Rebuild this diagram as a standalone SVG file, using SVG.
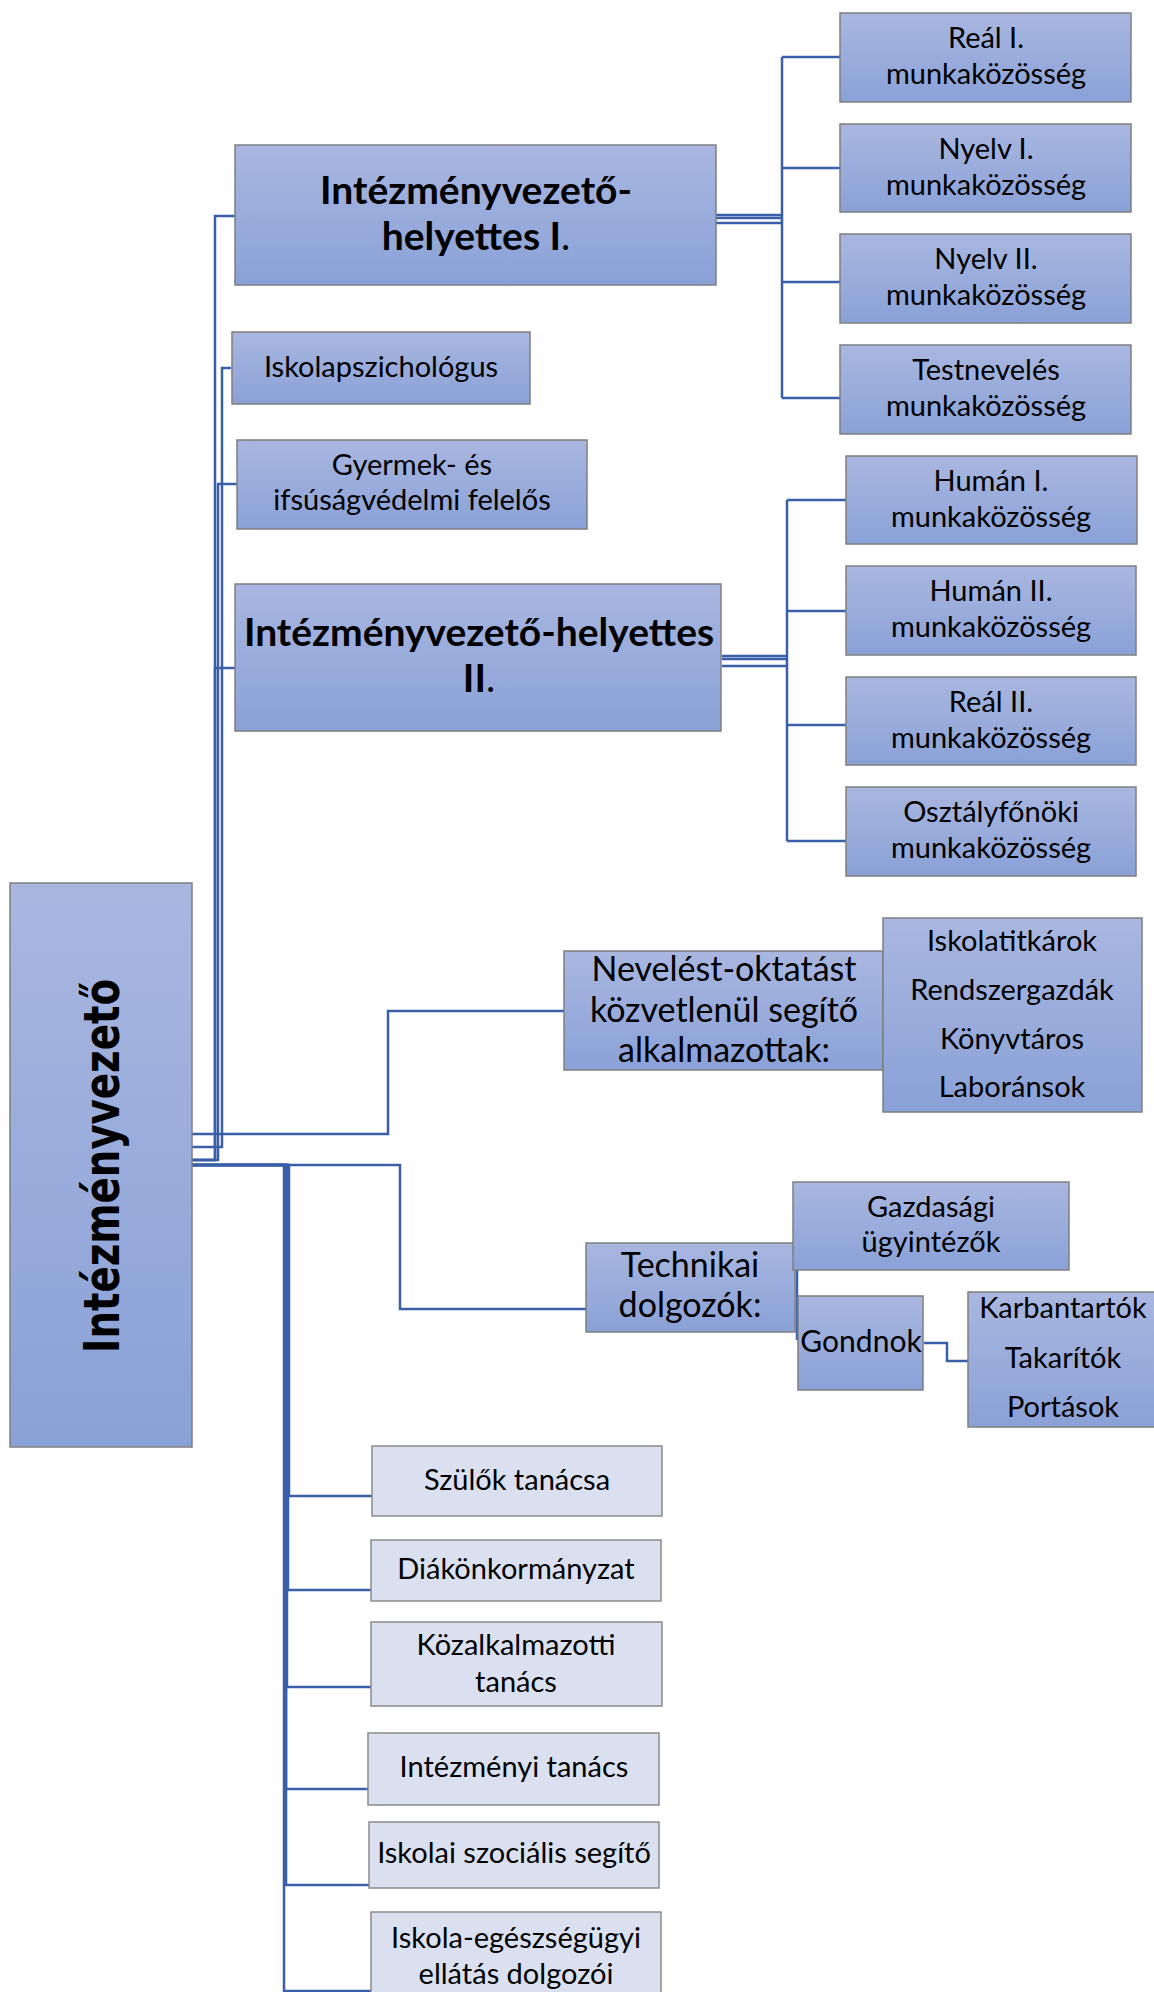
<svg xmlns="http://www.w3.org/2000/svg" width="1154" height="1992" viewBox="0 0 1154 1992">
<defs>
<linearGradient id="g" x1="0" y1="0" x2="0" y2="1">
<stop offset="0" stop-color="#A9B7E0"/>
<stop offset="1" stop-color="#8AA1D7"/>
</linearGradient>
</defs>
<style>
.b{fill:url(#g);stroke:#7F7F7F;stroke-width:1.5}
.l{fill:#DAE0F0;stroke:#8A8A8A;stroke-width:1.5}
.t{font-family:Lato,"Liberation Sans",sans-serif;font-size:29px;fill:#000;text-anchor:middle}
.tl{font-family:Lato,"Liberation Sans",sans-serif;font-size:34px;fill:#000;text-anchor:middle}
.tb{font-family:Lato,"Liberation Sans",sans-serif;font-size:39px;font-weight:bold;fill:#000;text-anchor:middle}
.c{fill:none;stroke:#3A5FA8;stroke-width:2.5}
</style>
<g id="connectors">
<path class="c" d="M192,1160 H215 V216 H236"/>
<path class="c" d="M192,1160 H215 V668 H236"/>
<path class="c" d="M192,1160 H218 V484 H237"/>
<path class="c" d="M192,1147 H222 V368 H231"/>
<path class="c" d="M192,1134 H388 V1011 H564"/>
<path class="c" d="M192,1165 H400 V1309 H586"/>
<path class="c" d="M192,1165 H289 V1496 H372"/>
<path class="c" d="M192,1165 H288 V1590 H371"/>
<path class="c" d="M192,1165 H287 V1687 H371"/>
<path class="c" d="M192,1165 H286 V1789 H368"/>
<path class="c" d="M192,1165 H286 V1885 H369"/>
<path class="c" d="M192,1165 H284 V1991 H371"/>
<path class="c" d="M716,215 H782 M716,218 H782 M716,223 H782"/>
<path class="c" d="M782,57 V398 M782,57 H840 M782,168 H840 M782,282 H840 M782,398 H840"/>
<path class="c" d="M722,656 H787 M722,659 H787 M722,666 H787"/>
<path class="c" d="M787,500 V841 M787,500 H846 M787,611 H846 M787,725 H846 M787,841 H846"/>
<path class="c" d="M797,1270 V1340"/>
<path class="c" d="M924,1343 H947 V1361 H968"/>
</g>
<g id="n-main">
<rect class="b" x="10" y="883" width="182" height="564"/>
<text transform="translate(119,1166) rotate(-90)" font-family="'DejaVu Sans',sans-serif" font-weight="bold" font-size="50" text-anchor="middle" textLength="374" lengthAdjust="spacingAndGlyphs">Intézményvezető</text>
</g>
<g id="n-ih1">
<rect class="b" x="235" y="145" width="481" height="140"/>
<text class="tb" x="476" y="204">Intézményvezető-</text>
<text class="tb" x="476" y="250">helyettes I<tspan font-weight="normal">.</tspan></text>
</g>
<g id="n-pszich">
<rect class="b" x="232" y="332" width="298" height="72"/>
<text class="t" x="381" y="377">Iskolapszichológus</text>
</g>
<g id="n-gyermek">
<rect class="b" x="237" y="440" width="350" height="89"/>
<text class="t" x="412" y="475">Gyermek- és</text>
<text class="t" x="412" y="510">ifsúságvédelmi felelős</text>
</g>
<g id="n-ih2">
<rect class="b" x="235" y="584" width="486" height="147"/>
<text class="tb" x="479" y="646">Intézményvezető-helyettes</text>
<text class="tb" x="479" y="692">II<tspan font-weight="normal">.</tspan></text>
</g>
<g id="n-real1">
<rect class="b" x="840" y="13" width="291" height="89"/>
<text class="t" x="986" y="48">Reál I.</text>
<text class="t" x="986" y="84">munkaközösség</text>
</g>
<g id="n-nyelv1">
<rect class="b" x="840" y="124" width="291" height="88"/>
<text class="t" x="986" y="159">Nyelv I.</text>
<text class="t" x="986" y="195">munkaközösség</text>
</g>
<g id="n-nyelv2">
<rect class="b" x="840" y="234" width="291" height="89"/>
<text class="t" x="986" y="269">Nyelv II.</text>
<text class="t" x="986" y="305">munkaközösség</text>
</g>
<g id="n-testnev">
<rect class="b" x="840" y="345" width="291" height="89"/>
<text class="t" x="986" y="380">Testnevelés</text>
<text class="t" x="986" y="416">munkaközösség</text>
</g>
<g id="n-human1">
<rect class="b" x="846" y="456" width="291" height="88"/>
<text class="t" x="991" y="491">Humán I.</text>
<text class="t" x="991" y="527">munkaközösség</text>
</g>
<g id="n-human2">
<rect class="b" x="846" y="566" width="290" height="89"/>
<text class="t" x="991" y="601">Humán II.</text>
<text class="t" x="991" y="637">munkaközösség</text>
</g>
<g id="n-real2">
<rect class="b" x="846" y="677" width="290" height="88"/>
<text class="t" x="991" y="712">Reál II.</text>
<text class="t" x="991" y="748">munkaközösség</text>
</g>
<g id="n-osztaly">
<rect class="b" x="846" y="787" width="290" height="89"/>
<text class="t" x="991" y="822">Osztályfőnöki</text>
<text class="t" x="991" y="858">munkaközösség</text>
</g>
<g id="n-neveles">
<rect class="b" x="564" y="951" width="319" height="119"/>
<text class="tl" x="724" y="981">Nevelést-oktatást</text>
<text class="tl" x="724" y="1022">közvetlenül segítő</text>
<text class="tl" x="724" y="1062">alkalmazottak:</text>
</g>
<g id="n-segito">
<rect class="b" x="883" y="918" width="259" height="194"/>
<text class="t" x="1012" y="951">Iskolatitkárok</text>
<text class="t" x="1012" y="1000">Rendszergazdák</text>
<text class="t" x="1012" y="1049">Könyvtáros</text>
<text class="t" x="1012" y="1097">Laboránsok</text>
</g>
<g id="n-technikai">
<rect class="b" x="586" y="1243" width="209" height="89"/>
<text class="tl" x="690" y="1277">Technikai</text>
<text class="tl" x="690" y="1317">dolgozók:</text>
</g>
<g id="n-gazdasagi">
<rect class="b" x="793" y="1182" width="276" height="88"/>
<text class="t" x="931" y="1217">Gazdasági</text>
<text class="t" x="931" y="1252">ügyintézők</text>
</g>
<g id="n-gondnok">
<rect class="b" x="798" y="1296" width="125" height="94"/>
<text class="t" x="861" y="1352" style="font-size:30px">Gondnok</text>
</g>
<g id="n-karbantartok">
<rect class="b" x="968" y="1292" width="190" height="135"/>
<text class="t" x="1063" y="1318">Karbantartók</text>
<text class="t" x="1063" y="1368">Takarítók</text>
<text class="t" x="1063" y="1417">Portások</text>
</g>
<g id="n-szulok">
<rect class="l" x="372" y="1446" width="290" height="70"/>
<text class="t" x="517" y="1490">Szülők tanácsa</text>
</g>
<g id="n-diak">
<rect class="l" x="371" y="1540" width="290" height="61"/>
<text class="t" x="516" y="1579">Diákönkormányzat</text>
</g>
<g id="n-kozalk">
<rect class="l" x="371" y="1622" width="291" height="84"/>
<text class="t" x="516" y="1655">Közalkalmazotti</text>
<text class="t" x="516" y="1692">tanács</text>
</g>
<g id="n-intezmenyi">
<rect class="l" x="368" y="1733" width="291" height="72"/>
<text class="t" x="514" y="1777">Intézményi tanács</text>
</g>
<g id="n-szocialis">
<rect class="l" x="369" y="1822" width="290" height="66"/>
<text class="t" x="514" y="1863">Iskolai szociális segítő</text>
</g>
<g id="n-egeszseg">
<rect class="l" x="371" y="1912" width="290" height="90"/>
<text class="t" x="516" y="1948">Iskola-egészségügyi</text>
<text class="t" x="516" y="1984">ellátás dolgozói</text>
</g>
</svg>
